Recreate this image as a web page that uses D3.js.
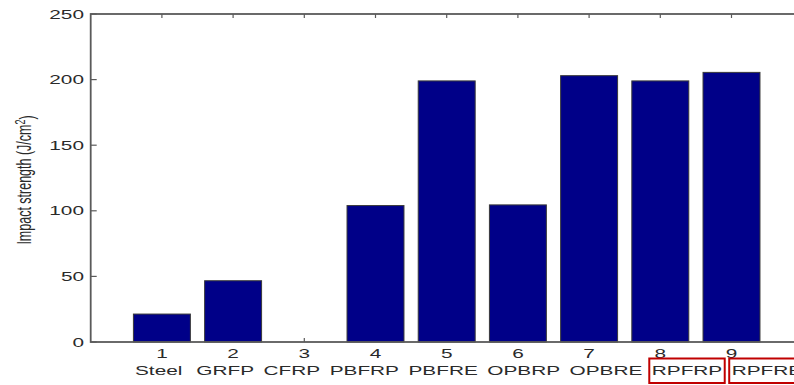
<!DOCTYPE html>
<html>
<head>
<meta charset="utf-8">
<script src="https://cdn.jsdelivr.net/npm/d3@7"></script>
<style>
  html, body { margin: 0; padding: 0; background: #fff; }
  svg { display: block; }
  text { font-family: "Liberation Sans", Arial, sans-serif; fill: #2a2a2a; }
</style>
</head>
<body>
<svg id="chart" width="794" height="385"></svg>
<script>
const indices = [1, 2, 3, 4, 5, 6, 7, 8, 9];
const categories = ["Steel", "GRFP", "CFRP", "PBFRP", "PBFRE", "OPBRP", "OPBRE", "RPFRP", "RPFRE"];
const values = [21.3, 46.7, 0, 104, 199, 104.5, 203, 199, 205.5];
const yTicks = [0, 50, 100, 150, 200, 250];
const highlighted = ["RPFRP", "RPFRE"];
const yLabel = "Impact strength (J/cm";
const yLabelSup = "2";

const svg = d3.select("#chart");
const SX = 1.6; // horizontal stretch of the original picture

const x = d3.scaleLinear().domain([0, 10]).range([90.7, 802.7]);
const y = d3.scaleLinear().domain([0, 250]).range([342, 14]);
const axisColor = "#5a5a5a";

// ticks (drawn under bars)
const tickG = svg.append("g").attr("stroke", axisColor).attr("stroke-width", 1.2);
yTicks.forEach(t => {
  tickG.append("line").attr("x1", x(0)).attr("x2", x(0) + 6).attr("y1", y(t)).attr("y2", y(t));
  tickG.append("line").attr("x1", x(10)).attr("x2", x(10) - 6).attr("y1", y(t)).attr("y2", y(t));
});
indices.forEach(i => {
  tickG.append("line").attr("x1", x(i)).attr("x2", x(i)).attr("y1", y(250)).attr("y2", y(250) + 4);
  tickG.append("line").attr("x1", x(i)).attr("x2", x(i)).attr("y1", y(0)).attr("y2", y(0) - 4);
});

// bars
const bw = 0.8;
svg.append("g").selectAll("rect").data(indices.map((d, k) => ({ i: d, v: values[k] })).filter(d => d.v > 0))
  .join("rect")
  .attr("x", d => x(d.i - bw / 2))
  .attr("width", d => x(d.i + bw / 2) - x(d.i - bw / 2))
  .attr("y", d => y(d.v))
  .attr("height", d => y(0) - y(d.v))
  .attr("fill", "#000088")
  .attr("stroke", "#3a3a3a")
  .attr("stroke-width", 1);

// axes box
const boxG = svg.append("g").attr("stroke", axisColor).attr("stroke-width", 1.8).attr("fill", "none");
boxG.append("rect").attr("x", x(0)).attr("y", y(250)).attr("width", x(10) - x(0)).attr("height", y(0) - y(250));

// y tick labels
yTicks.forEach(t => {
  svg.append("text")
    .attr("transform", `translate(84,${y(t)}) scale(${SX},1)`)
    .attr("text-anchor", "end")
    .attr("dy", "0.36em")
    .style("font-size", "13px")
    .text(t);
});

// x tick numbers
indices.forEach(i => {
  svg.append("text")
    .attr("transform", `translate(${x(i)},358) scale(${SX},1)`)
    .attr("text-anchor", "middle")
    .style("font-size", "13px")
    .text(i);
});

// category row (one continuous line of words, as in the original)
let cx = 135;
const gap = 9.5;
const catNodes = [];
categories.forEach((c, k) => {
  const t = svg.append("text")
    .attr("transform", `translate(${cx},375) scale(${SX},1)`)
    .style("font-size", "13px")
    .text(c);
  const w = t.node().getComputedTextLength() * SX;
  catNodes.push({ name: c, x0: cx, x1: cx + w });
  cx += w + (k === 0 ? gap + 4.5 : gap);
});

// red highlight boxes
catNodes.filter(d => highlighted.includes(d.name)).forEach(d => {
  svg.append("rect")
    .attr("x", d.x0 - 2.5)
    .attr("y", 358.5)
    .attr("width", d.x1 - d.x0 + 5)
    .attr("height", 24.5)
    .attr("fill", "none")
    .attr("stroke", "#c00000")
    .attr("stroke-width", 2);
});

// y axis label
const yl = svg.append("text")
  .attr("transform", `translate(31,180) scale(${SX},1) rotate(-90)`)
  .attr("text-anchor", "middle")
  .style("font-size", "12.5px");
yl.append("tspan").text(yLabel);
yl.append("tspan").attr("dy", "-0.45em").style("font-size", "9px").text(yLabelSup);
yl.append("tspan").attr("dy", "0.45em").text(")");
</script>
</body>
</html>
